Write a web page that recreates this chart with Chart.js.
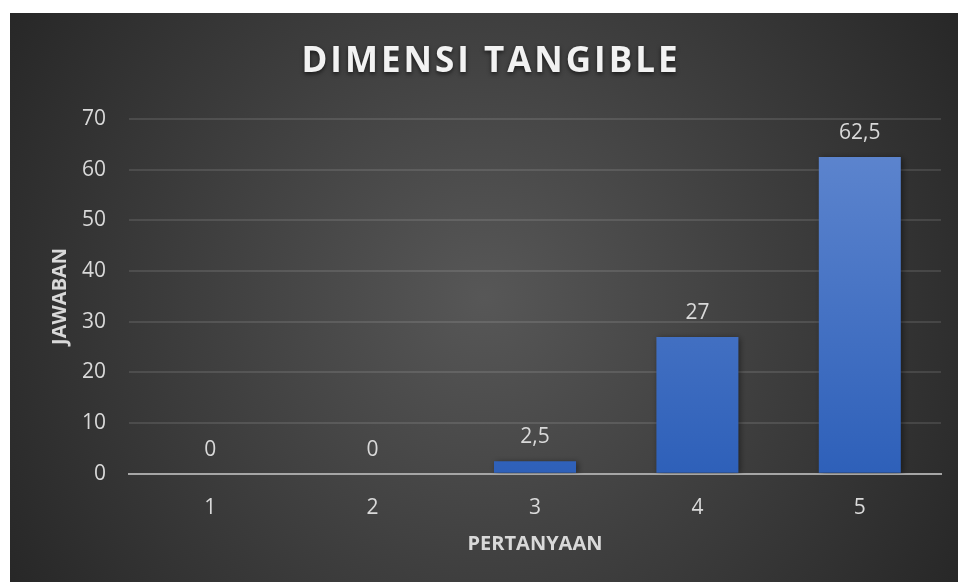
<!DOCTYPE html>
<html>
<head>
<meta charset="utf-8">
<script src="https://cdn.jsdelivr.net/npm/chart.js@4.4.0/dist/chart.umd.min.js"></script>
<style>
    html, body { margin: 0; padding: 0; background: #ffffff; }
    #wrap { position: absolute; left: 10px; top: 13px; width: 948px; height: 569px; }
</style>
</head>
<body>
<div id="wrap"><canvas id="chart"></canvas></div>
<script>
const categories = ['1', '2', '3', '4', '5'];
const values = [0, 0, 2.5, 27, 62.5];
const yTicks = [0, 10, 20, 30, 40, 50, 60, 70];
const chartTitle = 'DIMENSI TANGIBLE';
const xTitle = 'PERTANYAAN';
const yTitle = 'JAWABAN';

const fontName = "'Open Sans', sans-serif";
const textColor = '#d9d9d9';

// dark radial background + the big spaced-out title
const backgroundPlugin = {
    id: 'bg',
    beforeDraw(chart) {
        const { ctx, width, height } = chart;
        const g = ctx.createRadialGradient(width * 0.5, height * 0.5, 0, width * 0.5, height * 0.5, width * 0.6);
        g.addColorStop(0, '#575757');
        g.addColorStop(1, '#262626');
        ctx.save();
        ctx.fillStyle = g;
        ctx.fillRect(0, 0, width, height);
        ctx.restore();
    },
    afterDraw(chart) {
        const ctx = chart.ctx;
        ctx.save();
        ctx.font = 'bold 35px ' + fontName;
        ctx.letterSpacing = '3px';
        ctx.fillStyle = '#f2f2f2';
        ctx.textAlign = 'center';
        ctx.textBaseline = 'middle';
        ctx.shadowColor = 'rgba(0,0,0,0.6)';
        ctx.shadowBlur = 4;
        ctx.shadowOffsetY = 2;
        ctx.fillText(chartTitle, 481, 49);
        ctx.restore();
    }
};

// soft shadow behind bars
const shadowPlugin = {
    id: 'barShadow',
    beforeDatasetsDraw(chart) {
        const ctx = chart.ctx;
        ctx.save();
        ctx.shadowColor = 'rgba(0,0,0,0.45)';
        ctx.shadowBlur = 6;
        ctx.shadowOffsetX = 2;
        ctx.shadowOffsetY = 1;
    },
    afterDatasetsDraw(chart) {
        chart.ctx.restore();
    }
};

// value labels above bars, with comma decimals
const labelPlugin = {
    id: 'valueLabels',
    afterDatasetsDraw(chart) {
        const ctx = chart.ctx;
        const meta = chart.getDatasetMeta(0);
        ctx.save();
        ctx.font = '21px ' + fontName;
        ctx.fillStyle = textColor;
        ctx.textAlign = 'center';
        ctx.textBaseline = 'middle';
        meta.data.forEach((bar, i) => {
            const txt = String(values[i]).replace('.', ',');
            ctx.fillText(txt, bar.x, bar.y - 24);
        });
        ctx.restore();
    }
};

const ctx = document.getElementById('chart').getContext('2d');
new Chart(ctx, {
    type: 'bar',
    data: {
        labels: categories,
        datasets: [{
            data: values,
            backgroundColor: function(context) {
                const area = context.chart.chartArea;
                if (!area) return '#4472c4';
                const g = context.chart.ctx.createLinearGradient(0, area.top, 0, area.bottom);
                g.addColorStop(0, '#6188d0');
                g.addColorStop(1, '#2e60b9');
                return g;
            },
            borderWidth: 0,
            barPercentage: 0.505,
            categoryPercentage: 1.0
        }]
    },
    options: {
        responsive: true,
        maintainAspectRatio: false,
        animation: false,
        layout: { padding: { top: 106, right: 17, bottom: 22, left: 34 } },
        plugins: {
            legend: { display: false },
            tooltip: { enabled: false },
            title: { display: false }
        },
        scales: {
            x: {
                grid: { display: false, drawTicks: false },
                border: { color: '#a6a6a6', width: 2 },
                ticks: { color: textColor, font: { family: fontName, size: 21 }, padding: 22 },
                title: {
                    display: true,
                    text: xTitle,
                    color: textColor,
                    font: { family: fontName, size: 20, weight: 'bold' },
                    padding: { top: -11 }
                }
            },
            y: {
                min: 0,
                max: 70,
                afterBuildTicks(scale) {
                    scale.ticks = yTicks.map(v => ({ value: v }));
                },
                grid: { color: 'rgba(255,255,255,0.11)', lineWidth: 2, drawTicks: false },
                border: { display: false },
                ticks: { color: textColor, font: { family: fontName, size: 21 }, padding: 23 },
                title: {
                    display: true,
                    text: yTitle,
                    color: textColor,
                    font: { family: fontName, size: 20, weight: 'bold' },
                    padding: { top: 4, bottom: -13 }
                }
            }
        }
    },
    plugins: [backgroundPlugin, shadowPlugin, labelPlugin]
});
</script>
</body>
</html>
